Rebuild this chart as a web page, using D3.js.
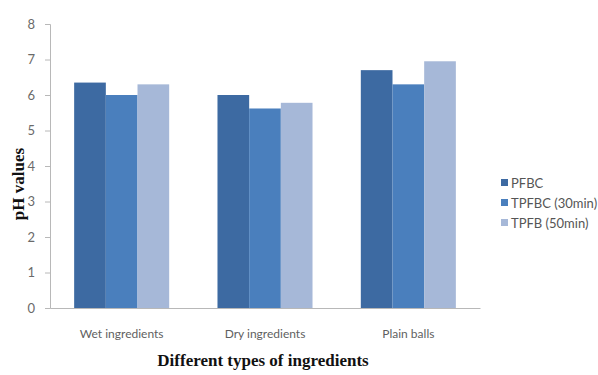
<!DOCTYPE html>
<html>
<head>
<meta charset="utf-8">
<script src="https://cdn.jsdelivr.net/npm/d3@7"></script>
<style>
  html, body { margin: 0; padding: 0; background: #ffffff; }
  svg { display: block; }
</style>
</head>
<body>
<svg id="chart" width="598" height="375"></svg>
<script>
// pH of the three ingredient types under each frying treatment
const categories = ["Wet ingredients", "Dry ingredients", "Plain balls"];
const seriesNames = ["PFBC", "TPFBC (30min)", "TPFB (50min)"];
const pfbc = [6.35, 6.0, 6.7];
const tpfbc30 = [6.0, 5.62, 6.3];
const tpfb50 = [6.3, 5.78, 6.95];
const yTicks = [0, 1, 2, 3, 4, 5, 6, 7, 8];
const seriesColors = ["#3d6aa2", "#4a7fbd", "#a6b8d8"];

const seriesValues = [pfbc, tpfbc30, tpfb50];
const rows = categories.map((c, i) => ({
  category: c,
  values: seriesNames.map((s, j) => ({ series: s, value: seriesValues[j][i] }))
}));

const svg = d3.select("#chart");
const plot = { left: 50, right: 480, top: 24, bottom: 308 };

const x0 = d3.scaleBand()
  .domain(categories)
  .range([plot.left, plot.right])
  .paddingInner(0.337)
  .paddingOuter(0.1685);

const x1 = d3.scaleBand()
  .domain(seriesNames)
  .range([0, x0.bandwidth()])
  .padding(0);

const y = d3.scaleLinear()
  .domain([0, 8])
  .range([plot.bottom, plot.top]);

const color = d3.scaleOrdinal().domain(seriesNames).range(seriesColors);

// Bars
const groups = svg.append("g").selectAll("g")
  .data(rows)
  .join("g")
  .attr("transform", d => `translate(${x0(d.category)},0)`);

groups.selectAll("rect")
  .data(d => d.values)
  .join("rect")
  .attr("x", d => x1(d.series))
  .attr("y", d => y(d.value))
  .attr("width", x1.bandwidth())
  .attr("height", d => y(0) - y(d.value))
  .attr("fill", d => color(d.series));

// Y axis
const yAxis = svg.append("g")
  .attr("transform", `translate(${plot.left},0)`)
  .call(d3.axisLeft(y).tickValues(yTicks).tickFormat(d3.format("d")).tickSize(5).tickPadding(10));
yAxis.select(".domain").attr("stroke", "#b8b8b8");
yAxis.selectAll(".tick line").attr("stroke", "#b8b8b8");
yAxis.selectAll(".tick text")
  .attr("fill", "#6a6a6a")
  .style("font-family", "Lato, 'Open Sans', sans-serif")
  .style("font-size", "13px");

// X axis
const xAxis = svg.append("g")
  .attr("transform", `translate(0,${plot.bottom})`)
  .call(d3.axisBottom(x0).tickSize(0).tickPadding(21));
xAxis.select(".domain").attr("stroke", "#b8b8b8");
xAxis.selectAll(".tick text")
  .attr("fill", "#5f5f5f")
  .style("font-family", "Lato, 'Open Sans', sans-serif")
  .style("font-size", "12px");

// Axis titles
svg.append("text")
  .attr("x", 263)
  .attr("y", 366)
  .attr("text-anchor", "middle")
  .style("font-family", "'Liberation Serif', 'Times New Roman', serif")
  .style("font-weight", "bold")
  .style("font-size", "17px")
  .attr("fill", "#111")
  .text("Different types of ingredients");

svg.append("text")
  .attr("transform", "translate(24,184) rotate(-90)")
  .attr("text-anchor", "middle")
  .style("font-family", "'Liberation Serif', 'Times New Roman', serif")
  .style("font-weight", "bold")
  .style("font-size", "17px")
  .attr("fill", "#111")
  .text("pH values");

// Legend
const legend = svg.append("g").attr("transform", "translate(501,183)");
const items = legend.selectAll("g")
  .data(seriesNames)
  .join("g")
  .attr("transform", (d, i) => `translate(0,${i * 20})`);
items.append("rect")
  .attr("x", 0).attr("y", -4)
  .attr("width", 7).attr("height", 7)
  .attr("fill", d => color(d));
items.append("text")
  .attr("x", 10).attr("y", 0)
  .attr("dy", "0.35em")
  .attr("fill", "#555")
  .style("font-family", "Lato, 'Open Sans', sans-serif")
  .style("font-size", "13px")
  .text(d => d);
</script>
</body>
</html>
